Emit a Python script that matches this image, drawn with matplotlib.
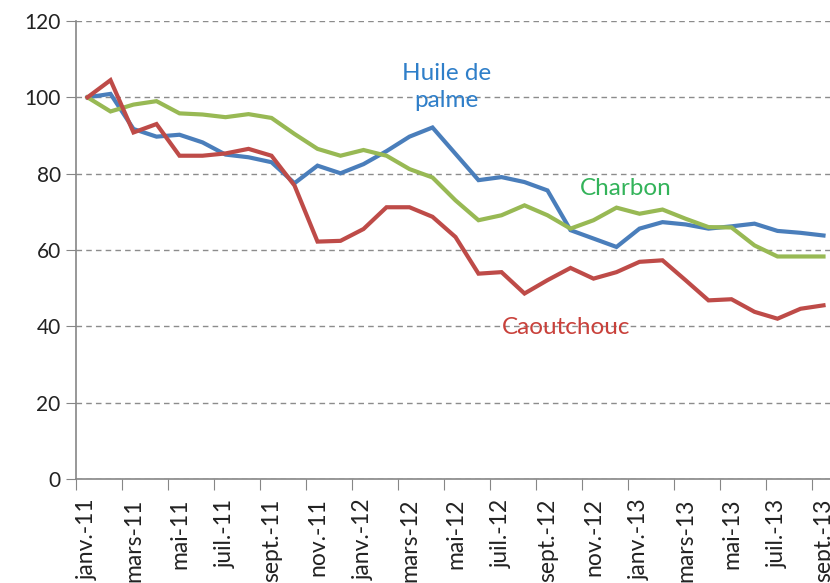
import matplotlib
matplotlib.use("Agg")
import matplotlib.pyplot as plt
import numpy as np

# monthly index, janv.-11 = 100
months = ["janv.", "févr.", "mars", "avr.", "mai", "juin",
          "juil.", "août", "sept.", "oct.", "nov.", "déc."]
labels = [f"{m}-{y}" for y in ("11", "12", "13") for m in months][:33]

palme = [100, 100.9, 91.7, 89.7, 90.2, 88.2, 85.0, 84.3, 83.0, 77.5, 82.1,
         80.1, 82.5, 85.9, 89.7, 92.1, 85.2, 78.3, 79.1, 77.8, 75.6, 65.2,
         63.0, 60.8, 65.6, 67.3, 66.7, 65.6, 66.2, 66.9, 65.0, 64.5, 63.8]
charbon = [100, 96.3, 98.1, 99.0, 95.8, 95.5, 94.8, 95.6, 94.6, 90.4, 86.5,
           84.7, 86.2, 84.7, 81.2, 79.0, 73.0, 67.8, 69.1, 71.7, 69.1, 65.6,
           67.8, 71.1, 69.5, 70.6, 68.2, 66.0, 65.9, 61.2, 58.3, 58.3, 58.3]
caoutchouc = [100, 104.5, 90.8, 93.0, 84.7, 84.7, 85.3, 86.5, 84.7, 76.9, 62.2,
              62.4, 65.5, 71.2, 71.2, 68.7, 63.4, 53.8, 54.2, 48.6, 52.1, 55.3,
              52.5, 54.2, 56.9, 57.3, 52.1, 46.8, 47.1, 43.8, 42.0, 44.6, 45.5]

BLUE = "#4a7ebb"
RED = "#be4b48"
GREEN = "#98b954"
AXIS = "#868686"

plt.rcParams["font.family"] = ["Lato", "DejaVu Sans"]

fig = plt.figure(figsize=(8.3, 5.83), dpi=100)
ax = fig.add_axes([76 / 830, 1 - 479 / 583, 759 / 830, (479 - 21) / 583])

x = np.arange(len(labels))
ax.plot(x, palme, color=BLUE, lw=3, solid_joinstyle="miter", zorder=3)
ax.plot(x, charbon, color=GREEN, lw=3, solid_joinstyle="miter", zorder=3)
ax.plot(x, caoutchouc, color=RED, lw=3, solid_joinstyle="miter", zorder=4)

ax.set_xlim(-0.5, len(labels) - 0.5)
ax.set_ylim(0, 120)
ax.set_yticks(range(0, 121, 20))
ax.yaxis.grid(True, color="#8c8c8c", ls=(0, (4, 3)), lw=1)
ax.set_axisbelow(True)
ax.tick_params(axis="y", length=7, color=AXIS, labelsize=15, pad=4,
               labelcolor="#222222")

# tick marks sit between categories, labels every two months
ax.set_xticks(np.arange(-0.5, len(labels), 2))
ax.set_xticklabels([])
ax.tick_params(axis="x", which="major", length=8, color=AXIS, direction="out")
ax.set_xticks(x[::2], minor=True)
ax.set_xticklabels(labels[::2], minor=True, rotation=90, fontsize=16.5,
                   color="#222222")
ax.tick_params(axis="x", which="minor", length=0, pad=14)

for s in ("top", "right"):
    ax.spines[s].set_visible(False)
for s in ("left", "bottom"):
    ax.spines[s].set_color(AXIS)
    ax.spines[s].set_linewidth(1.2)

ax.text(15.6, 102.7, "Huile de\npalme", color="#2f7fc9", fontsize=17.5,
        ha="center", va="center", linespacing=1.35)
ax.text(23.4, 76.1, "Charbon", color="#33b35a", fontsize=17.5,
        ha="center", va="center")
ax.text(20.8, 39.7, "Caoutchouc", color="#c9413b", fontsize=17.5,
        ha="center", va="center")

fig.savefig("out.png", dpi=100)
